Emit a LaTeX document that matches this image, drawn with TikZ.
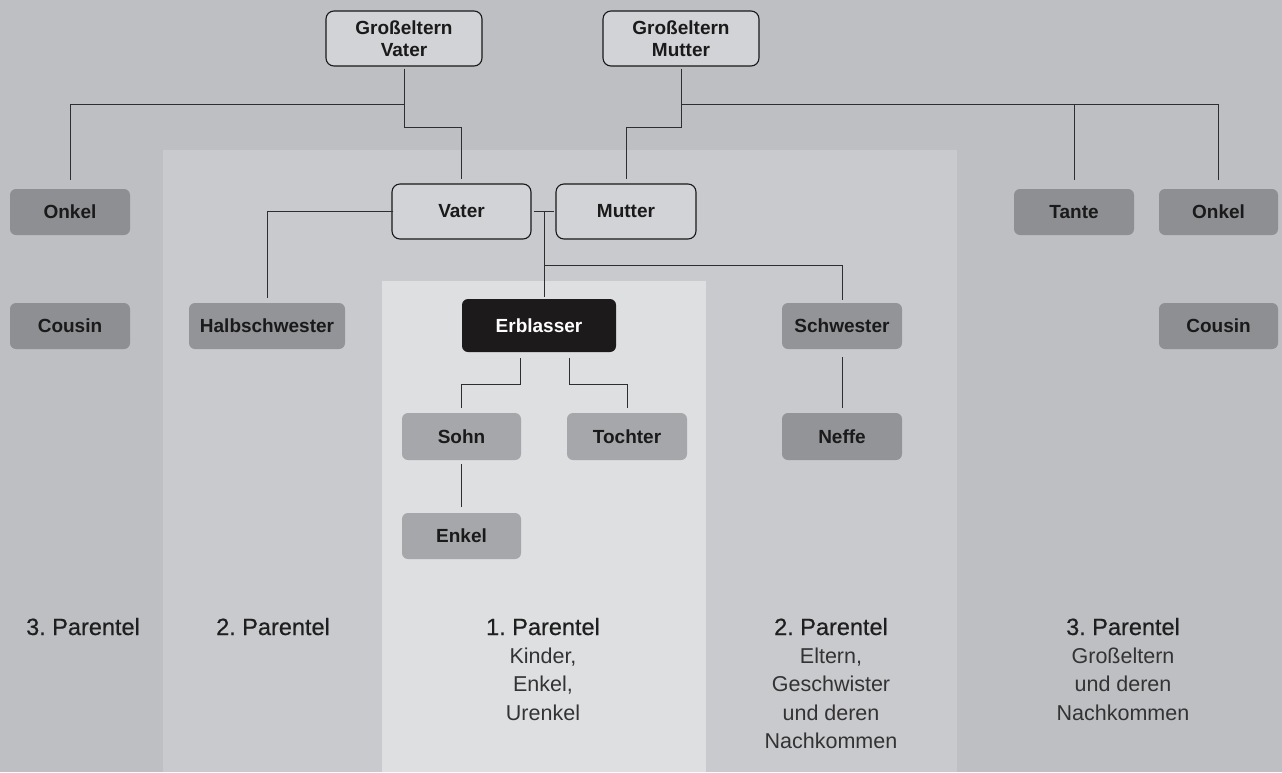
\documentclass[tikz,border=0pt]{standalone}
\usepackage{fontspec}
\setmainfont{Liberation Sans}
\newfontfamily\headfont[FakeBold=0.5]{Liberation Sans}
\usetikzlibrary{calc}
\frenchspacing
\definecolor{outerbg}{HTML}{BEBFC3}
\definecolor{midbg}{HTML}{C9CACD}
\definecolor{innerbg}{HTML}{DEDFE1}
\definecolor{boxdark}{HTML}{8E8F93}
\definecolor{boxmid}{HTML}{939498}
\definecolor{boxlight}{HTML}{A6A7AA}
\definecolor{boxout}{HTML}{D2D3D6}
\definecolor{erbcol}{HTML}{1D1A1B}
\definecolor{txt}{HTML}{1A1A1A}
\definecolor{linecol}{HTML}{2E2E2E}
\tikzset{
  base box/.style={rounded corners=6pt, inner sep=0pt, text=txt,
    font=\fontsize{19}{22}\selectfont\bfseries, align=center},
  outbox/.style={base box, draw=black!90, line width=1.1pt, fill=boxout, rounded corners=8pt},
  darkbox/.style={base box, fill=boxdark, minimum width=120pt, minimum height=46pt},
  midbox/.style={base box, fill=boxmid, minimum width=120pt, minimum height=46pt},
  lightbox/.style={base box, fill=boxlight, minimum width=119pt, minimum height=47pt},
  erbbox/.style={base box, fill=erbcol, text=white, minimum width=154pt, minimum height=53pt},
  conn/.style={draw=linecol, line width=1pt},
  head/.style={font=\headfont\fontsize{23.5}{28.5}\selectfont\frenchspacing, text=black!88, anchor=base, inner sep=0pt},
  sub/.style={font=\fontsize{21.5}{28.5}\selectfont, text=black!80, anchor=north, inner sep=0pt, align=center}
}
\begin{document}
\begin{tikzpicture}[x=1pt,y=-1pt]
\path[use as bounding box, fill=outerbg] (0,0) rectangle (1282,772);
\fill[midbg] (163,150) rectangle (957,772);
\fill[innerbg] (382,281) rectangle (706,772);

% nodes
\node[outbox, minimum width=156pt, minimum height=55pt] (gv) at (404,38.5) {Großeltern\\Vater};
\node[outbox, minimum width=156pt, minimum height=55pt] (gm) at (681,38.5) {Großeltern\\Mutter};
\node[outbox, minimum width=139pt, minimum height=55pt] (vater) at (461.5,211.5) {Vater};
\node[outbox, minimum width=140pt, minimum height=55pt] (mutter) at (626,211.5) {Mutter};
\node[darkbox] (onkelL) at (70,212) {Onkel};
\node[darkbox] (cousinL) at (70,326) {Cousin};
\node[midbox, minimum width=156pt] (halb) at (267,326) {Halbschwester};
\node[erbbox] (erb) at (539,325.5) {Erblasser};
\node[midbox] (schw) at (842,326) {Schwester};
\node[midbox, minimum height=47pt] (neffe) at (842,436.5) {Neffe};
\node[lightbox] (sohn) at (461.5,436.5) {Sohn};
\node[lightbox, minimum width=120pt] (tochter) at (627,436.5) {Tochter};
\node[lightbox, minimum height=46pt] (enkel) at (461.5,536) {Enkel};
\node[darkbox] (tante) at (1074,212) {Tante};
\node[darkbox, minimum width=119pt] (onkelR) at (1218.5,212) {Onkel};
\node[darkbox, minimum width=119pt] (cousinR) at (1218.5,326) {Cousin};

% connectors
\draw[conn, shorten <=2pt, shorten >=9pt] (gv.south) |- (onkelL.north |- 0,104) -- (onkelL.north);
\draw[conn, shorten <=2pt, shorten >=4pt] (gv.south) -- (gv.south |- 0,127) -| (vater.north);
\draw[conn, shorten <=2pt, shorten >=4pt] (gm.south) -- (gm.south |- 0,127) -| (mutter.north);
\draw[conn, shorten >=9pt] (gm.south |- 0,104) -| (onkelR.north);
\draw[conn, shorten >=9pt] (tante.north |- 0,104) -- (tante.north);
\draw[conn, shorten <=-2pt, shorten >=5pt] (vater.west) -| (halb.north);
\draw[conn, shorten <=2pt, shorten >=1pt] (vater.east) -- (mutter.west);
\coordinate (m) at ($(vater.east)!0.55!(mutter.west)$);
\draw[conn, shorten >=2pt] (m) -- (m |- erb.north);
\draw[conn, shorten >=3pt] (m |- 0,265) -| (schw.north);
\draw[conn, shorten <=6pt, shorten >=5pt] ([xshift=-19pt]erb.south) |- (sohn.north |- 0,384) -- (sohn.north);
\draw[conn, shorten <=6pt, shorten >=5pt] ([xshift=30pt]erb.south) |- (tochter.north |- 0,384) -- (tochter.north);
\draw[conn, shorten <=4pt, shorten >=6pt] (sohn.south) -- (enkel.north);
\draw[conn, shorten <=8pt, shorten >=5pt] (schw.south) -- (neffe.north);

% labels
\node[head] (h3l) at (83,635) {3. Parentel};
\node[head] (h2l) at (273,635) {2. Parentel};
\node[head] (h1) at (543,635) {1. Parentel};
\node[sub] (s1) at (543,647.5) {Kinder,\\Enkel,\\Urenkel};
\node[head] (h2r) at (831,635) {2. Parentel};
\node[sub] (s2r) at (831,647.5) {Eltern,\\Geschwister\\und deren\\Nachkommen};
\node[head] (h3r) at (1123,635) {3. Parentel};
\node[sub] (s3r) at (1123,647.5) {Großeltern\\und deren\\Nachkommen};
\end{tikzpicture}
\end{document}
